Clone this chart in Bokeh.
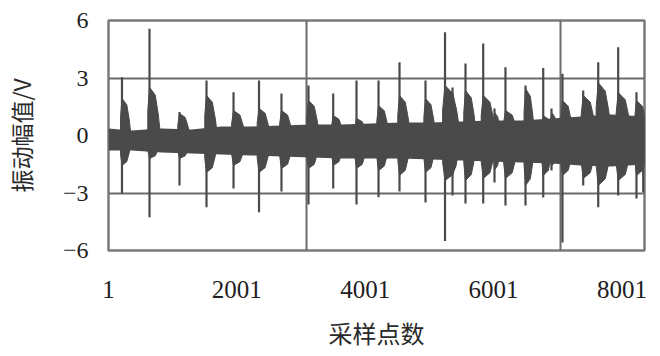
from bokeh.plotting import figure
from bokeh.models import FixedTicker, Range1d
from bokeh.embed import file_html
from bokeh.resources import INLINE

# ---- data ----
# base noise envelope (sample index, upper, lower) in V
base_x = [1, 359, 827, 1294, 1762, 2229, 2696, 3164, 3631, 4099, 4566,
          5033, 5501, 5968, 6436, 6903, 7370, 7838, 8352]
base_hi = [0.37, 0.26, 0.37, 0.31, 0.47, 0.47, 0.52, 0.57, 0.57, 0.63, 0.68,
           0.68, 0.73, 0.78, 0.78, 0.89, 0.99, 1.10, 0.99]
base_lo = [-0.78, -0.78, -0.89, -0.94, -0.99, -1.04, -1.10, -1.15, -1.20, -1.20, -1.20,
           -1.25, -1.30, -1.36, -1.41, -1.46, -1.56, -1.62, -1.51]

# impact events: sample index, spike peak, spike trough, burst upper, burst lower, burst length
event_x = [211, 640, 1107, 1528, 1949, 2346, 2696, 3117, 3502, 3865, 4208, 4535,
           4940, 5244, 5361, 5563, 5839, 6015, 6186, 6498, 6774, 6903, 7074, 7397,
           7631, 7942, 8227, 8332]
spike_hi = [3.04, 5.57, 1.22, 2.87, 2.26, 2.87, 2.19, 2.61, 2.19, 2.87, 2.87, 3.82,
            2.87, 5.39, 2.50, 3.76, 4.80, 1.41, 3.56, 2.61, 3.52, 1.41, 3.22, 2.35,
            3.82, 4.61, 2.26, 1.30]
spike_lo = [-3.03, -4.26, -2.61, -3.74, -2.77, -4.00, -2.92, -3.60, -2.77, -3.60, -3.22, -2.92,
            -3.50, -5.50, -3.13, -3.55, -3.55, -2.45, -3.65, -3.65, -3.24, -1.83, -5.58, -2.61,
            -3.74, -3.13, -3.29, -2.96]
burst_hi = [1.93, 2.52, 1.15, 2.09, 1.30, 1.41, 1.30, 1.83, 1.04, 0.89, 1.56, 2.09,
            1.93, 2.61, 1.80, 2.35, 2.09, 1.20, 1.30, 2.45, 1.04, 1.20, 1.83, 2.09,
            2.76, 2.24, 1.83, 1.30]
burst_lo = [-1.56, -1.20, -1.20, -1.93, -1.56, -1.93, -1.72, -1.72, -1.56, -1.72, -1.83, -2.09,
            -1.93, -2.35, -1.90, -2.35, -2.24, -1.80, -2.24, -2.61, -2.09, -1.60, -2.09, -2.24,
            -2.61, -2.35, -2.09, -2.00]
burst_len = [150, 180, 180, 180, 200, 190, 190, 180, 180, 180, 180, 180,
             170, 250, 100, 180, 210, 100, 210, 150, 160, 100, 180, 220,
             220, 220, 190, 20]

x_ticks = [1, 2001, 4001, 6001, 8001]
y_ticks = [-6, -3, 0, 3, 6]
y_tick_labels = {-6: "\u22126", -3: "\u22123", 0: "0", 3: "3", 6: "6"}
vgrid_x = [3093, 7050]
hgrid_y = [-3, 3]

SIG = "#4a4a4a"

p = figure(frame_width=536, frame_height=230,
           x_range=Range1d(1, 8352), y_range=Range1d(-6, 6),
           output_backend="svg", toolbar_location=None,
           min_border_left=99, min_border_right=13,
           min_border_top=20, min_border_bottom=90,
           background_fill_color="white", border_fill_color="white")

# grid
p.xgrid.ticker = FixedTicker(ticks=vgrid_x)
p.ygrid.ticker = FixedTicker(ticks=hgrid_y)
for g in (p.xgrid, p.ygrid):
    g.grid_line_color = "#6a6a6a"
    g.grid_line_width = 2
p.outline_line_color = "#7a7a7a"
p.outline_line_width = 2.5

# base noise band
p.varea(x=base_x, y1=base_lo, y2=base_hi, fill_color=SIG)

# bursts as block-like decaying envelopes
c = -0.25
xs, ys = [], []
for x, bh, bl, ln in zip(event_x, burst_hi, burst_lo, burst_len):
    up = lambda f: c + f * (bh - c)
    dn = lambda f: c + f * (bl - c)
    xs.append([x - 0.15 * ln, x - 0.15 * ln, x, x + 0.5 * ln, x + 0.75 * ln, x + ln,
               x + 0.75 * ln, x + 0.5 * ln, x, x - 0.15 * ln])
    ys.append([c, up(0.55), bh, up(0.85), up(0.5), c,
               dn(0.5), dn(0.85), bl, dn(0.55)])
p.patches(xs=xs, ys=ys, fill_color=SIG, line_color=SIG, line_width=1)

# spikes
p.segment(x0=event_x, y0=spike_lo, x1=event_x, y1=spike_hi,
          line_color=SIG, line_width=2.2)

# axes
p.xaxis.ticker = FixedTicker(ticks=x_ticks)
p.yaxis.ticker = FixedTicker(ticks=y_ticks)
p.yaxis.major_label_overrides = y_tick_labels
for ax in (p.xaxis[0], p.yaxis[0]):
    ax.axis_line_color = None
    ax.major_tick_line_color = None
    ax.minor_tick_line_color = None
    ax.major_label_text_font = "Liberation Serif"
    ax.major_label_text_color = "#1e1e1e"
    ax.axis_label_text_font = "Noto Sans CJK SC"
    ax.axis_label_text_font_style = "normal"
    ax.axis_label_text_color = "#2a2a2a"
p.xaxis.major_label_text_font_size = "25px"
p.yaxis.major_label_text_font_size = "24px"
p.xaxis.major_label_standoff = 24
p.yaxis.major_label_standoff = 14
p.xaxis.axis_label = "采样点数"
p.yaxis.axis_label = "振动幅值/V"
p.xaxis.axis_label_text_font_size = "24px"
p.yaxis.axis_label_text_font_size = "23px"
p.xaxis.axis_label_standoff = 14
p.yaxis.axis_label_standoff = 22

open("out.html", "w").write(file_html(p, INLINE))
